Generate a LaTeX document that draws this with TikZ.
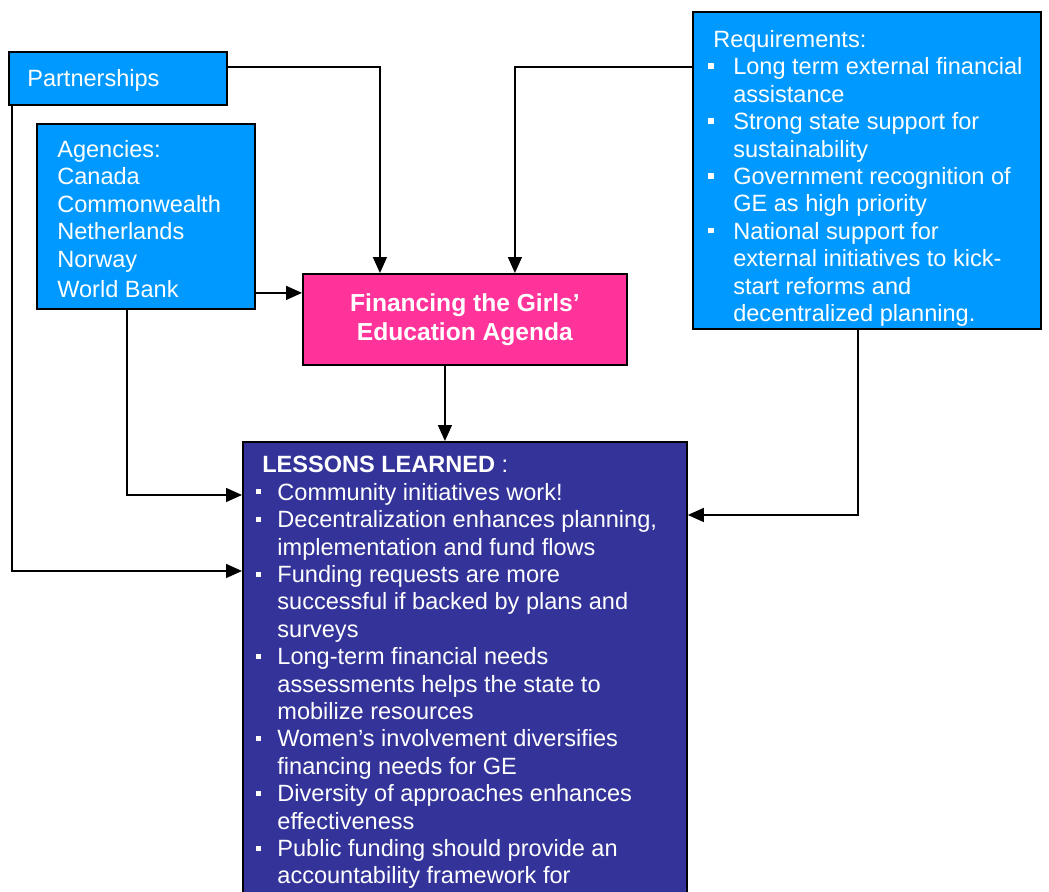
\documentclass[tikz,border=0pt]{standalone}
\usepackage{fontspec}
\setmainfont{Liberation Sans}
\usetikzlibrary{arrows.meta}
\definecolor{boxblue}{RGB}{0,153,255}
\definecolor{boxpink}{RGB}{255,51,153}
\definecolor{boxnavy}{RGB}{51,51,153}
\tikzset{
	box/.style={draw=black, line width=1.1pt, anchor=north west, inner sep=0pt},
	txt/.style={text=white, anchor=north west, inner sep=0pt, align=left, font=\fontsize{13.4}{15.6}\selectfont},
	arr/.style={line width=0.8pt, -{Triangle[length=0.32cm,width=0.28cm]}}
}
\newcommand{\rsq}{\makebox[14.2pt][l]{\rule[3.3pt]{3.4pt}{3.4pt}}}
\newcommand{\lsq}{\makebox[12pt][l]{\rule[3.3pt]{2.9pt}{2.9pt}}}
\begin{document}
\begin{tikzpicture}[x=0.02cm, y=-0.02cm]
				\useasboundingbox (0,0) rectangle (1049,892);
				\clip (0,0) rectangle (1049,892);
				% boxes
				\node[box, fill=boxblue, minimum width=4.36cm, minimum height=1.06cm] (part) at (8,51) {};
				\node[box, fill=boxblue, minimum width=4.36cm, minimum height=3.7cm] (agen) at (36,123) {};
				\node[box, fill=boxpink, minimum width=6.48cm, minimum height=1.82cm, text=white, align=center, font=\bfseries\fontsize{14}{16.5}\selectfont] (fin) at (302,273) {Financing the Girls’\\Education Agenda};
				\node[box, fill=boxblue, minimum width=6.96cm, minimum height=6.34cm] (req) at (692,11) {};
				\node[box, fill=boxnavy, minimum width=8.88cm, minimum height=9.4cm] (les) at (242,441) {};
				% texts
				\node[txt, anchor=base west] (partt) at (27,87) {Partnerships};
				\node[txt] (agent) at (57,140) {Agencies:\\Canada\\Commonwealth\\Netherlands\\Norway\\[1.5pt]World Bank};
				\node[txt] (reqt) at (708,30) {\hspace*{2.8pt}Requirements:\\
					\rsq Long term external financial\\ \hspace*{14.2pt}assistance\\
					\rsq Strong state support for\\ \hspace*{14.2pt}sustainability\\
					\rsq Government recognition of\\ \hspace*{14.2pt}GE as high priority\\
					\rsq National support for\\ \hspace*{14.2pt}external initiatives to kick-\\ \hspace*{14.2pt}start reforms and\\ \hspace*{14.2pt}decentralized planning.};
				\node[txt] (lest) at (256,456) {\hspace*{3.4pt}\textbf{LESSONS LEARNED} :\\
					\lsq Community initiatives work!\\
					\lsq Decentralization enhances planning,\\ \hspace*{12pt}implementation and fund flows\\
					\lsq Funding requests are more\\ \hspace*{12pt}successful if backed by plans and\\ \hspace*{12pt}surveys\\
					\lsq Long-term financial needs\\ \hspace*{12pt}assessments helps the state to\\ \hspace*{12pt}mobilize resources\\
					\lsq Women’s involvement diversifies\\ \hspace*{12pt}financing needs for GE\\
					\lsq Diversity of approaches enhances\\ \hspace*{12pt}effectiveness\\
					\lsq Public funding should provide an\\ \hspace*{12pt}accountability framework for};
				% connectors
				\draw[arr] ([yshift=-0.32cm]part.north east) -| ([xshift=-1.7cm]fin.north);
				\draw[arr] ([yshift=-1.12cm]req.north west) -| ([xshift=1cm]fin.north);
				\coordinate (ag) at ([yshift=0.34cm]agen.south east);
				\draw[arr] (ag) -- (ag -| fin.west);
				\draw[arr] ([xshift=-0.4cm]fin.south) -- ([xshift=-0.4cm]fin.south |- les.north);
				\draw[arr] ([xshift=-0.38cm]agen.south) |- ([yshift=-1.08cm]les.north west);
				\draw[arr] ([xshift=0.08cm]part.south west) |- ([yshift=-2.6cm]les.north west);
				\draw[arr] ([xshift=-0.18cm]req.south) |- ([yshift=-1.48cm]les.north east);
\end{tikzpicture}
\end{document}
